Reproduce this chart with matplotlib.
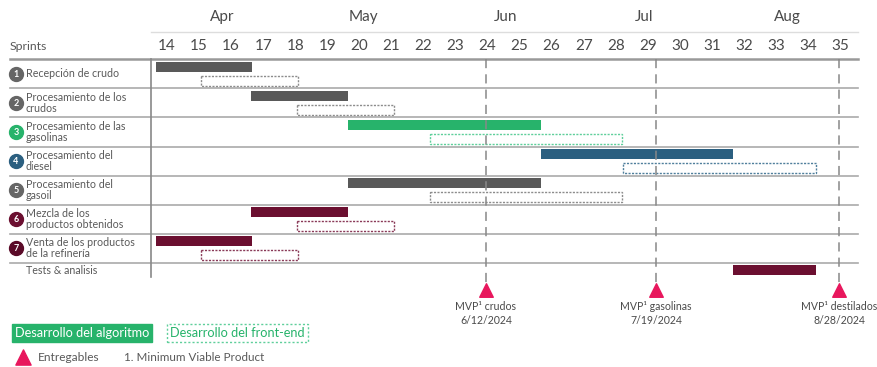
import matplotlib.pyplot as plt

rows = ['Recepción de crudo', 'Procesamiento de los\ncrudos', 'Procesamiento de las\ngasolinas',
        'Procesamiento del\ndiesel', 'Procesamiento del\ngasoil', 'Mezcla de los\nproductos obtenidos',
        'Venta de los productos\nde la refinería', 'Tests & analisis']
algo_start = [13.65, 16.63, 19.65, 25.67, 19.65, 16.63, 13.65, 31.66]
algo_end = [16.65, 19.65, 25.67, 31.66, 25.67, 19.65, 16.65, 34.25]
fe_start = [15.06, 18.07, 22.2, 28.23, 22.2, 18.07, 15.06]
fe_end = [18.09, 21.08, 28.2, 34.25, 28.2, 21.08, 18.09]

weeks = list(range(14, 36))
months = ['Apr', 'May', 'Jun', 'Jul', 'Aug']
month_pos = [15.72, 20.12, 24.55, 28.88, 33.34]

milestones = [23.95, 29.26, 34.97]
milestone_names = ['MVP¹ crudos', 'MVP¹ gasolinas', 'MVP¹ destilados']
milestone_dates = ['6/12/2024', '7/19/2024', '8/28/2024']

bar_colors = ['#595959', '#595959', '#27b36b', '#2b5f80', '#595959', '#6b0f30', '#6b0f30', '#6b0f30']
dash_colors = ['#8c8c8c', '#8c8c8c', '#5fcf9b', '#4f7f9c', '#8c8c8c', '#8a3a58', '#8a3a58']
circle_colors = ['#666666', '#666666', '#27b36b', '#2b5f80', '#666666', '#6b0f30', '#5a0a28']
pink = '#e8175d'
txt = '#595959'

plt.rcParams['font.family'] = ['Lato', 'DejaVu Sans']

fig = plt.figure(figsize=(8.77, 3.67), dpi=100)
ax = fig.add_axes([0, 0, 1, 1])
ax.set_xlim(8.79, 36.15)
ax.set_ylim(10.1, -2.55)
ax.axis('off')

# grid lines
ax.plot([13.5, 35.55], [-1.45, -1.45], color='#dddddd', lw=1)
ax.plot([9.1, 35.55], [-0.5, -0.5], color='#999999', lw=1.8)
for i in range(7):
    ax.plot([9.1, 35.55], [i + 0.5, i + 0.5], color='#aaaaaa', lw=1.2)
ax.plot([13.5, 13.5], [-0.5, 7.0], color='#888888', lw=1.2)

# header
for m, p in zip(months, month_pos):
    ax.text(p, -1.97, m, ha='center', va='center', fontsize=11, color='#4a4a4a')
for w in weeks:
    ax.text(w, -0.97, str(w), ha='center', va='center', fontsize=11, color='#4a4a4a')
ax.text(9.1, -0.95, 'Sprints', ha='left', va='center', fontsize=8.8, color=txt)

# milestone lines
for m in milestones:
    ax.plot([m, m], [-0.5, 7.25], color='#888888', lw=1.1, dashes=(6, 4))

# bars
for i, label in enumerate(rows):
    yc = i if i < 7 else i - 0.24
    ax.barh(i - 0.24, algo_end[i] - algo_start[i], left=algo_start[i], height=0.34,
            color=bar_colors[i], edgecolor='none')
    if i < 7:
        ax.barh(i + 0.24, fe_end[i] - fe_start[i], left=fe_start[i], height=0.34,
                fill=False, edgecolor=dash_colors[i], lw=1, linestyle=(0, (1.5, 1)))
        ax.scatter([9.29], [yc], s=100, color=circle_colors[i], zorder=3)
        ax.text(9.29, yc + 0.02, str(i + 1), ha='center', va='center', fontsize=6.5,
                color='white', fontweight='bold', zorder=4)
        ax.text(9.6, yc, label, ha='left', va='center', fontsize=7.7, color=txt, linespacing=0.95)
    else:
        ax.text(9.6, yc, label, ha='left', va='center', fontsize=7.7, color=txt)

# milestone markers
for m, name, date in zip(milestones, milestone_names, milestone_dates):
    ax.scatter([m], [7.45], marker='^', s=95, color=pink, zorder=3)
    ax.text(m, 8.0, name, ha='center', va='center', fontsize=7.6, color='#4a4a4a')
    ax.text(m, 8.48, date, ha='center', va='center', fontsize=7.6, color='#4a4a4a')

# legend
ax.text(9.25, 8.93, 'Desarrollo del algoritmo', ha='left', va='center', fontsize=9.2, color='white',
        bbox=dict(boxstyle='square,pad=0.25', fc='#27b36b', ec='#27b36b'))
ax.text(14.1, 8.93, 'Desarrollo del front-end', ha='left', va='center', fontsize=9.2, color='#27b36b',
        bbox=dict(boxstyle='square,pad=0.25', fc='white', ec='#5fcf9b', ls=(0, (1.5, 1.5))))
ax.scatter([9.52], [9.76], marker='^', s=120, color=pink)
ax.text(9.97, 9.76, 'Entregables', ha='left', va='center', fontsize=8.6, color=txt)
ax.text(12.65, 9.76, '1. Minimum Viable Product', ha='left', va='center', fontsize=8.4, color=txt)

fig.savefig('out.png', dpi=100, facecolor='white')
